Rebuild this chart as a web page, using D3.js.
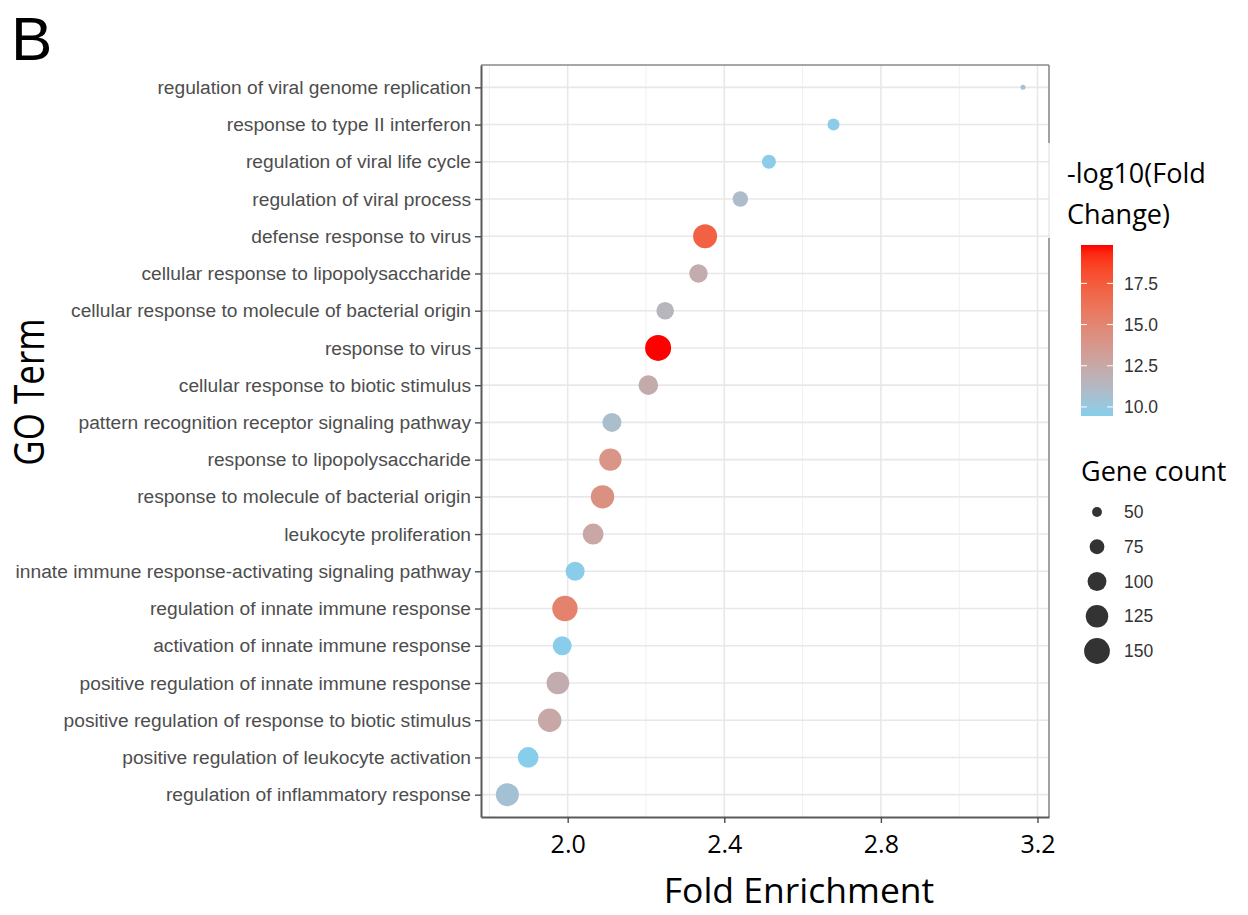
<!DOCTYPE html>
<html>
<head>
<meta charset="utf-8">
<script src="https://cdn.jsdelivr.net/npm/d3@7"></script>
<style>
  html, body { margin: 0; padding: 0; background: #fff; }
  svg { display: block; }
</style>
</head>
<body>
<svg id="chart" width="1248" height="915"></svg>
<script>
// GO terms, top to bottom
const terms = [
  "regulation of viral genome replication",
  "response to type II interferon",
  "regulation of viral life cycle",
  "regulation of viral process",
  "defense response to virus",
  "cellular response to lipopolysaccharide",
  "cellular response to molecule of bacterial origin",
  "response to virus",
  "cellular response to biotic stimulus",
  "pattern recognition receptor signaling pathway",
  "response to lipopolysaccharide",
  "response to molecule of bacterial origin",
  "leukocyte proliferation",
  "innate immune response-activating signaling pathway",
  "regulation of innate immune response",
  "activation of innate immune response",
  "positive regulation of innate immune response",
  "positive regulation of response to biotic stimulus",
  "positive regulation of leukocyte activation",
  "regulation of inflammatory response"
];
const foldEnrichment = [3.163, 2.679, 2.514, 2.441, 2.351, 2.334, 2.249, 2.231, 2.206, 2.113,
                        2.109, 2.089, 2.065, 2.019, 1.993, 1.986, 1.975, 1.954, 1.899, 1.846];
const negLog10 = [10.6, 9.6, 9.6, 10.9, 17.2, 12.2, 11.5, 19.83, 12.3, 10.8,
                  13.9, 14.2, 12.6, 9.5, 15.2, 9.5, 12.2, 12.5, 9.45, 10.5];
const geneCount = [30, 60, 71, 79, 136, 97, 92, 152, 105, 101,
                   124, 132, 114, 101, 147, 101, 126, 132, 112, 129];

const xTicks = [2.0, 2.4, 2.8, 3.2];
const xMinor = [1.8, 2.2, 2.6, 3.0];
const colorTicks = [10.0, 12.5, 15.0, 17.5];
const sizeBreaks = [50, 75, 100, 125, 150];

const rows = terms.map((t, i) => ({
  term: t, fe: foldEnrichment[i], lg: negLog10[i], n: geneCount[i]
}));

const svg = d3.select("#chart");
svg.append("rect").attr("width", 1248).attr("height", 915).attr("fill", "#fff");

const panel = { left: 481, right: 1049, top: 65, bottom: 817 };

const x = d3.scaleLinear().domain([1.7786, 3.2294]).range([panel.left, panel.right]);
const y = d3.scalePoint().domain(terms).range([panel.top, panel.bottom]).padding(0.6);

const colorDomain = [d3.min(negLog10), d3.max(negLog10)];
const color = d3.scaleLinear().domain(colorDomain).range(["#87ceeb", "#ff0000"])
  .interpolate(d3.interpolateLab);

const sizeLin = d3.scaleLinear()
  .domain([Math.sqrt(d3.min(geneCount)), Math.sqrt(d3.max(geneCount))])
  .range([2.5, 13]);
const radius = v => sizeLin(Math.sqrt(v));

// grid
const grid = svg.append("g");
grid.selectAll("line.minor").data(xMinor).join("line")
  .attr("x1", d => x(d)).attr("x2", d => x(d))
  .attr("y1", panel.top).attr("y2", panel.bottom)
  .attr("stroke", "#f0f0f0").attr("stroke-width", 1);
grid.selectAll("line.majx").data(xTicks).join("line")
  .attr("x1", d => x(d)).attr("x2", d => x(d))
  .attr("y1", panel.top).attr("y2", panel.bottom)
  .attr("stroke", "#e8e8e8").attr("stroke-width", 1.6);
grid.selectAll("line.majy").data(terms).join("line")
  .attr("x1", panel.left).attr("x2", panel.right)
  .attr("y1", d => y(d)).attr("y2", d => y(d))
  .attr("stroke", "#e8e8e8").attr("stroke-width", 1.6);

// points
svg.append("g").selectAll("circle").data(rows).join("circle")
  .attr("cx", d => x(d.fe)).attr("cy", d => y(d.term))
  .attr("r", d => radius(d.n))
  .attr("fill", d => color(d.lg));

// panel border
const border = svg.append("g");
border.append("line").attr("x1", panel.left).attr("x2", panel.right)
  .attr("y1", panel.top).attr("y2", panel.top).attr("stroke", "#8a8a8a").attr("stroke-width", 1.6);
border.append("line").attr("x1", panel.right).attr("x2", panel.right)
  .attr("y1", panel.top).attr("y2", 143).attr("stroke", "#8a8a8a").attr("stroke-width", 1.6);
border.append("line").attr("x1", panel.right).attr("x2", panel.right)
  .attr("y1", 143).attr("y2", 238).attr("stroke", "#dcdcdc").attr("stroke-width", 1);
border.append("line").attr("x1", panel.right).attr("x2", panel.right)
  .attr("y1", 238).attr("y2", panel.bottom).attr("stroke", "#8a8a8a").attr("stroke-width", 1.6);

// axes
const yAxis = d3.axisLeft(y).tickSize(6).tickSizeOuter(0).tickPadding(4);
const gy = svg.append("g").attr("transform", `translate(${panel.left},0)`).call(yAxis);
gy.select(".domain").attr("stroke", "#5a5a5a").attr("stroke-width", 2);
gy.selectAll(".tick line").attr("stroke", "#4d4d4d").attr("stroke-width", 1.4);
gy.selectAll(".tick text")
  .attr("font-family", "'Liberation Sans', Arial, sans-serif")
  .attr("font-size", 19.2).attr("fill", "#4d4d4d");

const xAxis = d3.axisBottom(x).tickValues(xTicks).tickSize(6).tickSizeOuter(0).tickPadding(12)
  .tickFormat(d3.format(".1f"));
const gx = svg.append("g").attr("transform", `translate(0,${panel.bottom})`).call(xAxis);
gx.select(".domain").attr("stroke", "#5a5a5a").attr("stroke-width", 2);
gx.selectAll(".tick line").attr("stroke", "#4d4d4d").attr("stroke-width", 1.4);
gx.selectAll(".tick text")
  .attr("font-family", "'Open Sans', sans-serif")
  .attr("font-size", 25).attr("fill", "#000");

// titles
const titleFont = "'Open Sans', sans-serif";
svg.append("text").attr("x", 11).attr("y", 60).text("B")
  .attr("font-family", "'Liberation Sans', Arial, sans-serif").attr("font-size", 62).attr("fill", "#000");
svg.append("text").attr("transform", "translate(44,392) scale(1.2,1) rotate(-90)")
  .attr("text-anchor", "middle").text("GO Term")
  .attr("font-family", titleFont).attr("font-size", 35).attr("fill", "#000");
svg.append("text").attr("x", 799).attr("y", 903).attr("text-anchor", "middle")
  .text("Fold Enrichment")
  .attr("font-family", titleFont).attr("font-size", 35.5).attr("fill", "#000");

// colour legend
const leg = svg.append("g");
leg.append("text").attr("x", 1067).attr("y", 183).text("-log10(Fold")
  .attr("font-family", titleFont).attr("font-size", 27).attr("fill", "#000");
leg.append("text").attr("x", 1067).attr("y", 224).text("Change)")
  .attr("font-family", titleFont).attr("font-size", 27).attr("fill", "#000");

const bar = { x: 1081, w: 32, top: 245, bottom: 416 };
const cy = d3.scaleLinear().domain(colorDomain).range([bar.bottom, bar.top]);
const defs = svg.append("defs");
const grad = defs.append("linearGradient").attr("id", "cbar")
  .attr("x1", 0).attr("y1", 1).attr("x2", 0).attr("y2", 0);
d3.range(0, 1.0001, 0.05).forEach(t => {
  grad.append("stop").attr("offset", t)
    .attr("stop-color", color(colorDomain[0] + t * (colorDomain[1] - colorDomain[0])));
});
leg.append("rect").attr("x", bar.x).attr("y", bar.top)
  .attr("width", bar.w).attr("height", bar.bottom - bar.top).attr("fill", "url(#cbar)");
colorTicks.forEach(v => {
  leg.append("line").attr("x1", bar.x).attr("x2", bar.x + 6)
    .attr("y1", cy(v)).attr("y2", cy(v)).attr("stroke", "#fff").attr("stroke-width", 1);
  leg.append("line").attr("x1", bar.x + bar.w - 6).attr("x2", bar.x + bar.w)
    .attr("y1", cy(v)).attr("y2", cy(v)).attr("stroke", "#fff").attr("stroke-width", 1);
  leg.append("text").attr("x", 1124).attr("y", cy(v)).attr("dy", "0.35em")
    .text(d3.format(".1f")(v))
    .attr("font-family", "'Liberation Sans', Arial, sans-serif")
    .attr("font-size", 17.5).attr("fill", "#333");
});

// size legend
leg.append("text").attr("x", 1081).attr("y", 481).text("Gene count")
  .attr("font-family", titleFont).attr("font-size", 27).attr("fill", "#000");
const sy = d3.scalePoint().domain(sizeBreaks).range([512, 651]);
sizeBreaks.forEach(v => {
  leg.append("circle").attr("cx", 1097).attr("cy", sy(v)).attr("r", radius(v)).attr("fill", "#333");
  leg.append("text").attr("x", 1124).attr("y", sy(v)).attr("dy", "0.35em").text(v)
    .attr("font-family", "'Liberation Sans', Arial, sans-serif")
    .attr("font-size", 17.5).attr("fill", "#333");
});
</script>
</body>
</html>
